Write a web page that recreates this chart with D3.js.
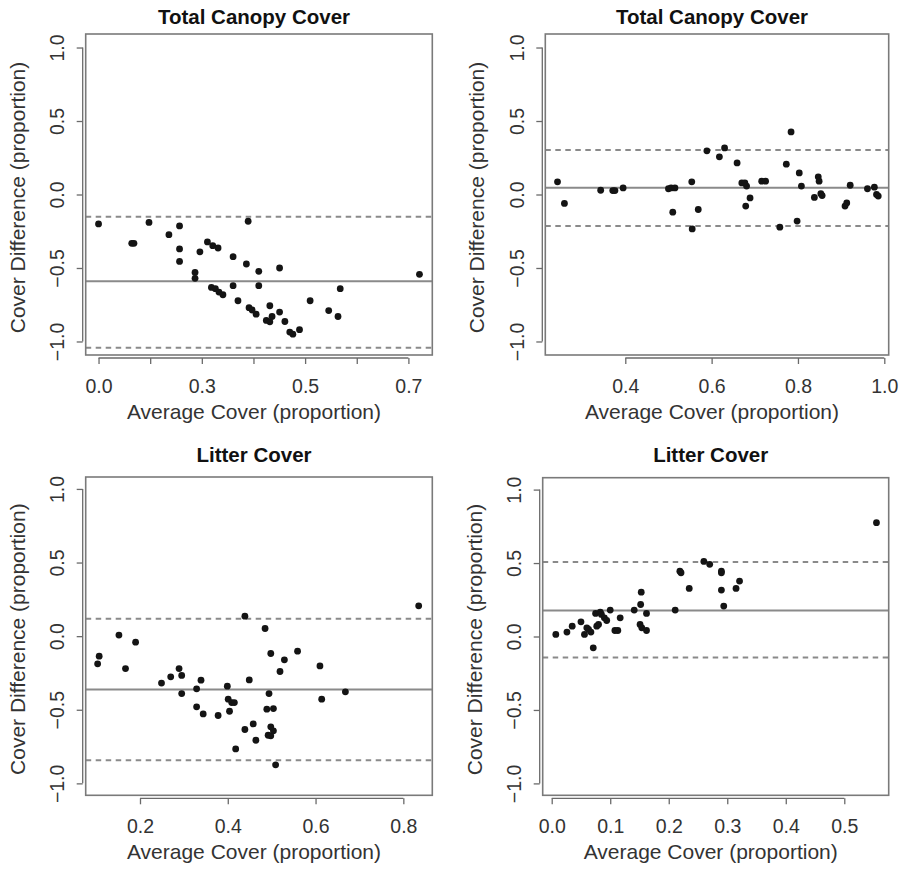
<!DOCTYPE html>
<html lang="en">
<head>
<meta charset="UTF-8">
<title>Cover Difference vs Average Cover</title>
<style>
  body { margin: 0; padding: 0; background: #fff; }
  svg { display: block; font-family: "Liberation Sans", Arial, Helvetica, sans-serif; }
  .box { fill: none; stroke: #7a7a7a; stroke-width: 1.6px; }
  .axis line, .axis-line { stroke: #6a6a6a; stroke-width: 1.3px; }
  .axis text { fill: #333; font-size: 19.5px; }
  .mean { stroke: #8a8a8a; stroke-width: 2px; }
  .limit { stroke: #8a8a8a; stroke-width: 2px; stroke-dasharray: 5.5 4.5; }
  .dot { fill: #141414; }
  .main { font-size: 20.5px; font-weight: bold; fill: #111; text-anchor: middle; }
  .lab { font-size: 21px; fill: #333; text-anchor: middle; }
</style>
</head>
<body>
<div id="chart"></div>
<script src="https://d3js.org/d3.v7.min.js"></script>
<script>
// Total canopy cover, first comparison
var canopyAX = [0.000, 0.075, 0.080, 0.114, 0.159, 0.183, 0.183, 0.183, 0.218, 0.218,
  0.229, 0.246, 0.258, 0.270, 0.255, 0.264, 0.272, 0.281, 0.304, 0.304,
  0.315, 0.334, 0.338, 0.340, 0.347, 0.356, 0.362, 0.362, 0.379, 0.387,
  0.392, 0.387, 0.409, 0.409, 0.421, 0.432, 0.439, 0.454, 0.478, 0.520,
  0.541, 0.546, 0.725];
var canopyAY = [-0.200, -0.332, -0.332, -0.190, -0.273, -0.214, -0.370, -0.455, -0.530, -0.570,
  -0.390, -0.323, -0.348, -0.364, -0.632, -0.641, -0.664, -0.682, -0.423, -0.620,
  -0.723, -0.473, -0.182, -0.770, -0.786, -0.814, -0.523, -0.620, -0.857, -0.866,
  -0.830, -0.757, -0.500, -0.800, -0.864, -0.936, -0.950, -0.920, -0.723, -0.790,
  -0.830, -0.641, -0.543];

// Total canopy cover, second comparison
var canopyBX = [0.243, 0.259, 0.343, 0.371, 0.376, 0.395, 0.500, 0.506, 0.515, 0.510,
  0.554, 0.555, 0.569, 0.589, 0.618, 0.630, 0.659, 0.670, 0.677, 0.681,
  0.679, 0.689, 0.716, 0.725, 0.758, 0.773, 0.784, 0.798, 0.803, 0.808,
  0.838, 0.847, 0.849, 0.853, 0.856, 0.909, 0.913, 0.921, 0.961, 0.977,
  0.982, 0.986];
var canopyBY = [0.086, -0.061, 0.029, 0.027, 0.027, 0.045, 0.039, 0.045, 0.045, -0.120,
  0.086, -0.234, -0.102, 0.297, 0.256, 0.317, 0.215, 0.079, 0.079, 0.057,
  -0.079, -0.023, 0.091, 0.091, -0.222, 0.206, 0.426, -0.181, 0.147, 0.057,
  -0.020, 0.120, 0.091, 0.005, -0.007, -0.079, -0.057, 0.063, 0.039, 0.050,
  0.000, -0.011];

// Litter cover, first comparison
var litterAX = [0.1035, 0.107, 0.152, 0.167, 0.190, 0.249, 0.270, 0.289, 0.295, 0.295,
  0.329, 0.329, 0.339, 0.344, 0.378, 0.399, 0.401, 0.409, 0.415, 0.404,
  0.418, 0.439, 0.439, 0.449, 0.458, 0.464, 0.485, 0.489, 0.492, 0.494,
  0.498, 0.498, 0.498, 0.504, 0.504, 0.509, 0.519, 0.529, 0.559, 0.610,
  0.614, 0.668, 0.835];
var litterAY = [-0.188, -0.136, 0.007, -0.220, -0.041, -0.319, -0.276, -0.220, -0.267, -0.390,
  -0.358, -0.480, -0.299, -0.528, -0.539, -0.340, -0.428, -0.451, -0.451, -0.510,
  -0.766, 0.136, -0.634, -0.297, -0.596, -0.707, 0.052, -0.496, -0.673, -0.390,
  -0.118, -0.616, -0.677, -0.492, -0.643, -0.874, -0.240, -0.161, -0.102, -0.202,
  -0.428, -0.378, 0.206];

// Litter cover, second comparison
var litterBX = [0.007, 0.026, 0.035, 0.050, 0.056, 0.060, 0.063, 0.067, 0.071, 0.075,
  0.083, 0.085, 0.077, 0.080, 0.090, 0.094, 0.100, 0.108, 0.113, 0.117,
  0.141, 0.153, 0.152, 0.151, 0.154, 0.162, 0.162, 0.211, 0.219, 0.221,
  0.235, 0.260, 0.270, 0.290, 0.290, 0.290, 0.294, 0.315, 0.321, 0.555];
var litterBY = [0.014, 0.030, 0.070, 0.100, 0.014, 0.059, 0.048, 0.030, -0.077, 0.157,
  0.166, 0.150, 0.070, 0.082, 0.127, 0.109, 0.180, 0.041, 0.041, 0.127,
  0.180, 0.302, 0.218, 0.082, 0.059, 0.041, 0.157, 0.180, 0.445, 0.434,
  0.327, 0.511, 0.491, 0.445, 0.434, 0.316, 0.207, 0.327, 0.377, 0.775];

// mean difference and limits of agreement [mean, upper, lower]
var canopyALines = [-0.590, -0.152, -1.043];
var canopyBLines = [0.046, 0.302, -0.215];
var litterALines = [-0.362, 0.118, -0.843];
var litterBLines = [0.177, 0.507, -0.143];

// tick values and labels
var yTicks = [-1, -0.5, 0, 0.5, 1];
var yLabels = ["\u22121.0", "\u22120.5", "0.0", "0.5", "1.0"];
var canopyATicks = [0, 0.7 / 6, 1.4 / 6, 0.35, 2.8 / 6, 3.5 / 6, 0.7];
var canopyALabels = ["0.0", "", "0.3", "", "0.5", "", "0.7"];
var canopyBTicks = [0.4, 0.6, 0.8, 1.0];
var canopyBLabels = ["0.4", "0.6", "0.8", "1.0"];
var litterATicks = [0.2, 0.4, 0.6, 0.8];
var litterALabels = ["0.2", "0.4", "0.6", "0.8"];
var litterBTicks = [0, 0.1, 0.2, 0.3, 0.4, 0.5];
var litterBLabels = ["0.0", "0.1", "0.2", "0.3", "0.4", "0.5"];

var width = 902, height = 874;

var panels = [
  { title: "Total Canopy Cover", xs: canopyAX, ys: canopyAY, lines: canopyALines,
    ticks: canopyATicks, labels: canopyALabels, xDom: [-0.029, 0.754], yPad: 1.092,
    left: 85.7, right: 432.3, top: 34, bottom: 355, titleY: 24 },
  { title: "Total Canopy Cover", xs: canopyBX, ys: canopyBY, lines: canopyBLines,
    ticks: canopyBTicks, labels: canopyBLabels, xDom: [0.2147, 1.0102], yPad: 1.092,
    left: 545.3, right: 888.7, top: 34, bottom: 355, titleY: 24 },
  { title: "Litter Cover", xs: litterAX, ys: litterAY, lines: litterALines,
    ticks: litterATicks, labels: litterALabels, xDom: [0.0763, 0.866], yPad: 1.081,
    left: 85.7, right: 432.3, top: 477, bottom: 795.3, titleY: 462 },
  { title: "Litter Cover", xs: litterBX, ys: litterBY, lines: litterBLines,
    ticks: litterBTicks, labels: litterBLabels, xDom: [-0.0154, 0.5759], yPad: 1.081,
    left: 542.7, right: 888.7, top: 477.7, bottom: 795.3, titleY: 462 }
];

var svg = d3.select("#chart").append("svg")
  .attr("width", width)
  .attr("height", height);

panels.forEach(function(p) {
  var x = d3.scaleLinear().domain(p.xDom).range([p.left, p.right]);
  var y = d3.scaleLinear().domain([-p.yPad, p.yPad]).range([p.bottom, p.top]);
  var g = svg.append("g");
  var cx = (p.left + p.right) / 2 - 5;

  // reference lines
  g.append("line").attr("class", "mean")
    .attr("x1", p.left).attr("x2", p.right)
    .attr("y1", y(p.lines[0])).attr("y2", y(p.lines[0]));
  p.lines.slice(1).forEach(function(v) {
    g.append("line").attr("class", "limit")
      .attr("x1", p.left).attr("x2", p.right)
      .attr("y1", y(v)).attr("y2", y(v));
  });

  // points
  g.selectAll(".dot")
    .data(p.xs.map(function(d, i) { return [d, p.ys[i]]; }))
    .enter().append("circle")
    .attr("class", "dot")
    .attr("cx", function(d) { return x(d[0]); })
    .attr("cy", function(d) { return y(d[1]); })
    .attr("r", 3.4);

  g.append("rect").attr("class", "box")
    .attr("x", p.left).attr("y", p.top)
    .attr("width", p.right - p.left).attr("height", p.bottom - p.top);

  // x axis, R style: line from first to last tick, set a little below the box
  var xa = g.append("g").attr("class", "axis")
    .attr("transform", "translate(0," + (p.bottom + 3) + ")")
    .call(d3.axisBottom(x).tickValues(p.ticks)
      .tickFormat(function(d, i) { return p.labels[i]; })
      .tickSize(6).tickSizeOuter(0).tickPadding(16));
  xa.select(".domain").remove();
  xa.selectAll("text").attr("dy", 0).attr("y", 35);
  xa.append("line").attr("class", "axis-line")
    .attr("x1", x(p.ticks[0])).attr("x2", x(p.ticks[p.ticks.length - 1]));

  // y axis with rotated labels
  var ya = g.append("g").attr("class", "axis")
    .attr("transform", "translate(" + (p.left - 3) + ",0)")
    .call(d3.axisLeft(y).tickValues(yTicks)
      .tickFormat(function(d, i) { return yLabels[i]; })
      .tickSize(6).tickSizeOuter(0));
  ya.select(".domain").remove();
  ya.selectAll("text")
    .attr("x", 0).attr("dy", 0)
    .attr("text-anchor", "middle")
    .attr("transform", "translate(-18.5,0) rotate(-90)");
  ya.append("line").attr("class", "axis-line")
    .attr("y1", y(-1)).attr("y2", y(1));

  // titles
  g.append("text").attr("class", "main")
    .attr("x", cx).attr("y", p.titleY).text(p.title);
  g.append("text").attr("class", "lab")
    .attr("x", cx).attr("y", p.bottom + 64).text("Average Cover (proportion)");
  g.append("text").attr("class", "lab")
    .attr("transform", "translate(" + (p.left - 61) + "," + ((p.top + p.bottom) / 2 + 3) + ") rotate(-90)")
    .text("Cover Difference (proportion)");
});
</script>
</body>
</html>
